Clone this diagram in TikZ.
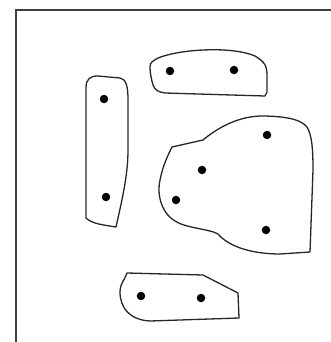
\documentclass[tikz,border=0pt]{standalone}
\begin{document}
\begin{tikzpicture}[x=1pt,y=-1pt,
  blob/.style={draw=black!85,line width=1.3pt,line join=round},
  frame/.style={draw=black!75,line width=1.6pt},
  dot/.style={circle,fill=black,inner sep=0pt,minimum size=8.5pt}]
\useasboundingbox (0,0) rectangle (331,342);
% frame (only top and left edges visible)
\draw[frame] (16,342) -- (16,10) -- (331,10);
% vertical blob
\draw[blob] (86,218) -- (86,88) .. controls (86,79) and (90,76) .. (98,76)
  -- (120,78) .. controls (126,79) and (128,86) .. (128,100) -- (128,150)
  .. controls (128,175) and (122,200) .. (116,227)
  .. controls (104,225) and (92,224) .. (86,218) -- cycle;
% top blob
\draw[blob] (153,85) .. controls (151,78) and (150,72) .. (150,67)
  .. controls (150,62) and (153,61) .. (158,58)
  .. controls (180,49) and (232,46) .. (255,56)
  .. controls (265,62) and (267,66) .. (267,76) -- (267,92) -- (265,96)
  -- (165,93) .. controls (158,92) and (155,90) .. (153,85) -- cycle;
% big blob
\draw[blob] (172,147) -- (203,140) .. controls (215,130) and (235,117) .. (260,116)
  .. controls (280,116) and (300,118) .. (307,127)
  .. controls (312,135) and (313,150) .. (313,170) -- (310,252) -- (280,254)
  .. controls (255,254) and (230,248) .. (218,234)
  .. controls (210,229) and (185,228) .. (175,221)
  .. controls (160,212) and (157,192) .. (160,180)
  .. controls (163,165) and (168,155) .. (172,147) -- cycle;
% bottom blob
\draw[blob] (127,273) -- (203,275) -- (238,293) -- (239,318) -- (150,321)
  .. controls (130,320) and (120,308) .. (120,292)
  .. controls (120,283) and (125,280) .. (127,273) -- cycle;
% dots
\node[dot] (a1) at (104,99) {};
\node[dot] (a2) at (106,197) {};
\node[dot] (b1) at (170,71) {};
\node[dot] (b2) at (234,70) {};
\node[dot] (c1) at (267,135) {};
\node[dot] (c2) at (202,170) {};
\node[dot] (c3) at (176,200) {};
\node[dot] (c4) at (266,230) {};
\node[dot] (d1) at (141,296) {};
\node[dot] (d2) at (201,298) {};
\end{tikzpicture}
\end{document}
